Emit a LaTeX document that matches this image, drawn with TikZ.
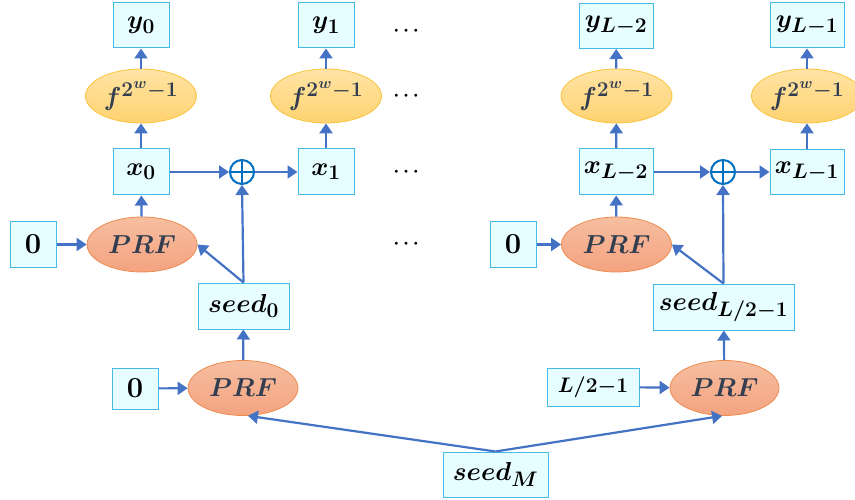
\RequirePackage{fix-cm}
\documentclass[tikz,border=0pt]{standalone}
\usepackage{amsmath}
\usetikzlibrary{arrows.meta,shapes.geometric}
\DeclareMathSizes{26}{26}{21}{15.5}
\DeclareMathSizes{21}{21}{16.5}{12}
\DeclareMathSizes{29}{29}{21}{15}
\definecolor{boxfill}{RGB}{230,254,255}
\definecolor{boxdraw}{RGB}{70,185,230}
\definecolor{arrcol}{RGB}{68,114,196}
\definecolor{oplcol}{RGB}{0,112,192}
\definecolor{prftop}{RGB}{246,190,160}
\definecolor{prfbot}{RGB}{244,163,128}
\definecolor{prfdraw}{RGB}{237,140,80}
\definecolor{ftop}{RGB}{255,228,165}
\definecolor{fbot}{RGB}{255,210,112}
\definecolor{fdraw}{RGB}{250,195,60}
\definecolor{ink}{RGB}{50,62,80}
\tikzset{
  big/.style={font=\fontsize{26}{30}\selectfont\boldmath},
  digit/.style={font=\fontsize{29}{32}\selectfont\boldmath},
  sq/.style={big, rectangle, draw=boxdraw, fill=boxfill, line width=1pt, inner sep=0pt},
  prf/.style={big, ellipse, draw=prfdraw, line width=0.8pt, top color=prftop, bottom color=prfbot,
              minimum width=110pt, minimum height=55pt, inner sep=0pt, text=ink},
  fel/.style={big, ellipse, draw=fdraw, line width=0.8pt, top color=ftop, bottom color=fbot,
              minimum width=111pt, minimum height=54pt, inner sep=0pt, text=ink},
  xorc/.style={circle, draw=oplcol, fill=white, line width=2pt, minimum size=24pt, inner sep=0pt,
              path picture={\draw[oplcol, line width=1.8pt]
                (path picture bounding box.north) -- (path picture bounding box.south)
                (path picture bounding box.west) -- (path picture bounding box.east);}},
  arrowln/.style={draw=arrcol, line width=2.2pt, -{Triangle[length=10pt,width=13pt]}},
  dotsn/.style={font=\fontsize{19}{22}\selectfont\boldmath, inner sep=0pt}
}
\begin{document}
\begin{tikzpicture}[x=1pt,y=-1pt]
\useasboundingbox (0,0) rectangle (855,500);
% column A
\node[sq, minimum width=56pt, minimum height=45pt] (y0) at (141,25.5) {$y_{\mathbf 0}$};
\node[fel] (f0) at (141,96) {$f^{\mathbf 2^{w}\mathbf{-1}}$};
\node[sq, minimum width=56pt, minimum height=46pt] (x0) at (141,172) {$x_{\mathbf 0}$};
\node[prf] (prfa) at (142,244.5) {$PRF$};
\node[sq, digit, minimum width=46pt, minimum height=46pt] (za) at (33,244.5) {$\mathbf 0$};
% column B
\node[sq, minimum width=56pt, minimum height=45pt] (y1) at (326,25.5) {$y_{\mathbf 1}$};
\node[fel] (f1) at (326,96) {$f^{\mathbf 2^{w}\mathbf{-1}}$};
\node[sq, minimum width=56pt, minimum height=46pt] (x1) at (326,172) {$x_{\mathbf 1}$};
\node[xorc] (xa) at (242,172) {};
% seed 0 and bottom left PRF
\node[sq, minimum width=91pt, minimum height=46pt] (s0) at (243.5,306) {$seed_{\mathbf 0}$};
\node[prf] (prfb) at (243,388) {$PRF$};
\node[sq, digit, minimum width=46pt, minimum height=41pt] (zb) at (135,388.5) {$\mathbf 0$};
% dots
\node[dotsn] (d1) at (408,31) {$\cdots$};
\node[dotsn] (d2) at (408,96) {$\cdots$};
\node[dotsn] (d3) at (408,172) {$\cdots$};
\node[dotsn] (d4) at (408,244) {$\cdots$};
% column C
\node[sq, minimum width=74pt, minimum height=45pt] (yc) at (616,26) {$y_{L\mathbf{-2}}$};
\node[fel] (fc) at (616.5,96) {$f^{\mathbf 2^{w}\mathbf{-1}}$};
\node[sq, minimum width=74pt, minimum height=46pt] (xc) at (616,172) {$x_{L\mathbf{-2}}$};
\node[prf] (prfc) at (616.5,244.5) {$PRF$};
\node[sq, digit, minimum width=46pt, minimum height=46pt] (zc) at (513,244.5) {$\mathbf 0$};
% column D
\node[sq, minimum width=74pt, minimum height=45pt] (yd) at (807,25.5) {$y_{L\mathbf{-1}}$};
\node[fel] (fd) at (807,96) {$f^{\mathbf 2^{w}\mathbf{-1}}$};
\node[sq, minimum width=74pt, minimum height=45pt] (xd) at (807,172) {$x_{L\mathbf{-1}}$};
\node[xorc] (xb) at (723,172) {};
% seed L/2-1 and bottom right PRF
\node[sq, minimum width=141pt, minimum height=46pt] (sl) at (723.5,307) {$seed_{L/\mathbf 2\mathbf{-1}}$};
\node[prf, minimum width=109pt] (prfd) at (724.5,388) {$PRF$};
\node[sq, minimum width=92pt, minimum height=38pt, font=\fontsize{21}{24}\selectfont\boldmath] (zl) at (593,387) {$L/\mathbf 2\mathbf{-1}$};
% seed M
\node[sq, minimum width=105pt, minimum height=45pt] (sm) at (495.5,474.5) {$seed_M$};
% connectors, left
\draw[arrowln] (x0) -- (f0);
\draw[arrowln] (f0) -- (y0);
\draw[arrowln] (x1) -- (f1);
\draw[arrowln] (f1) -- (y1);
\draw[arrowln] (prfa) -- (x0);
\draw[arrowln] (za) -- (prfa);
\draw[arrowln] (x0) -- (xa);
\draw[arrowln] (xa) -- (x1);
\draw[arrowln] (s0.north) -- (prfa.east);
\draw[arrowln] (s0.north) -- (xa.south);
\draw[arrowln] (prfb) -- (s0);
\draw[arrowln] (zb) -- (prfb);
% connectors, right
\draw[arrowln] (xc) -- (fc);
\draw[arrowln] (fc) -- (yc);
\draw[arrowln] (xd) -- (fd);
\draw[arrowln] (fd) -- (yd);
\draw[arrowln] (prfc) -- (xc);
\draw[arrowln] (zc) -- (prfc);
\draw[arrowln] (xc) -- (xb);
\draw[arrowln] (xb) -- (xd);
\draw[arrowln] (sl.north) -- (prfc.east);
\draw[arrowln] (sl.north) -- (xb.south);
\draw[arrowln] (prfd) -- (sl);
\draw[arrowln] (zl) -- (prfd);
% seed M
\draw[arrowln] (sm.north) -- (prfb.-80);
\draw[arrowln] (sm.north) -- (prfd.-95);
\end{tikzpicture}
\end{document}
